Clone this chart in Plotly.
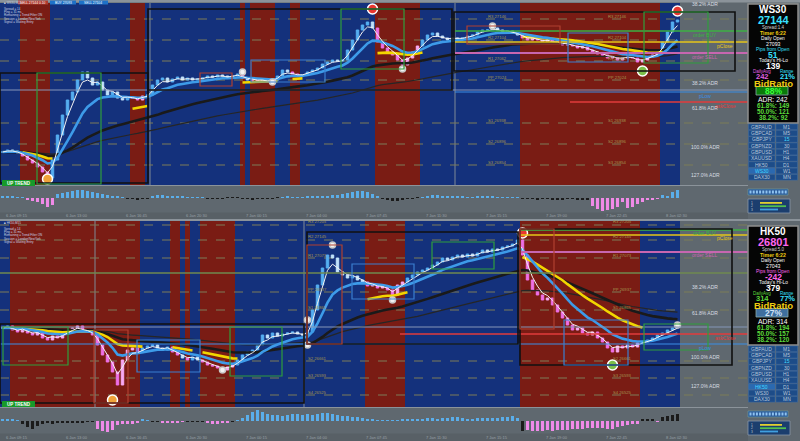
import plotly.graph_objects as go
import pandas as pd

W, H = 800, 441

# ---------------- DATA ----------------
top_symbol = "WS30"
bot_symbol = "HK50"

top_close = [
    26880, 26884, 26882, 26878, 26872, 26864, 26858, 26850, 26840, 26828,
    26864, 26914, 26954, 26984, 27000, 27024, 27040, 27028, 27014, 27020,
    27004, 26994, 27000, 26988, 26984, 26990, 26988, 26984, 26992, 26994,
    27014, 27024, 27028, 27020, 27026, 27030, 27024, 27028, 27024, 27026,
    27028, 27032, 27030, 27034, 27032, 27028, 27032, 27036, 27028, 27024,
    27024, 27022, 27024, 27020, 27024, 27032, 27044, 27040, 27036, 27032,
    27034, 27040, 27044, 27048, 27056, 27060, 27064, 27062, 27064, 27084,
    27104, 27124, 27134, 27140, 27128, 27100, 27088, 27080, 27074, 27064,
    27054, 27068, 27080, 27092, 27104, 27114, 27118, 27112, 27108, 27104,
    27108, 27106, 27108, 27112, 27114, 27120, 27124, 27124, 27128, 27124,
    27120, 27122, 27118, 27114, 27108, 27104, 27108, 27104, 27100, 27104,
    27098, 27100, 27094, 27096, 27092, 27088, 27090, 27084, 27080, 27076,
    27074, 27068, 27070, 27064, 27068, 27072, 27068, 27060, 27064, 27070,
    27074, 27080, 27100, 27120, 27140, 27144]

bot_close = [
    26793, 26801, 26785, 26777, 26793, 26773, 26765, 26777, 26753, 26745,
    26761, 26753, 26769, 26785, 26793, 26801, 26785, 26777, 26765, 26725,
    26685, 26657, 26617, 26565, 26665, 26705, 26713, 26697, 26713, 26721,
    26725, 26713, 26705, 26717, 26697, 26685, 26673, 26665, 26677, 26665,
    26657, 26645, 26641, 26633, 26625, 26637, 26645, 26665, 26685, 26697,
    26705, 26725, 26765, 26753, 26773, 26761, 26769, 26773, 26777, 26769,
    26765, 26777, 26865, 26965, 27033, 27085, 27073, 27017, 27005, 26993,
    27001, 26985, 26977, 26961, 26965, 26953, 26957, 26945, 26925, 26965,
    26977, 26993, 27005, 27017, 27025, 27033, 27045, 27057, 27073, 27065,
    27077, 27085, 27077, 27089, 27081, 27093, 27105, 27097, 27109, 27105,
    27117, 27121, 27129, 27145, 27085, 26985, 26945, 26925, 26905, 26913,
    26885, 26857, 26833, 26805, 26785, 26793, 26773, 26765, 26777, 26753,
    26737, 26713, 26697, 26721, 26713, 26725, 26717, 26733, 26737, 26745,
    26753, 26765, 26773, 26785, 26793, 26801]

# regime (background) runs: B = blue / bullish, R = red / bearish
top_regime_runs = [("B", 4), ("R", 6), ("B", 16), ("R", 3), ("B", 19), ("R", 1), ("B", 1),
                   ("R", 5), ("B", 3), ("R", 2), ("B", 15), ("R", 9), ("B", 20), ("R", 28), ("B", 4)]
bot_regime_runs = [("B", 2), ("R", 26), ("B", 6), ("R", 2), ("B", 1), ("R", 1), ("B", 2),
                   ("R", 7), ("B", 26), ("R", 8), ("B", 23), ("R", 24), ("B", 8)]

top_hist = [
    1.5, 2, 2, 1, 1,
    -2, -3, -4, -6, -9, -7,
    4, 5, 6, 7, 8, 8, 7, 6, 5, 4, 3, 2, 1.5, 1,
    -0.5, -1, -1.5, -1, -0.5,
    2, 3, 3, 2.5, 2, 2, 1.5, 1, 1, 0.5, 0.5,
    -0.5, -1, -1, -0.5, 0.5, 1, 0.5, -0.5, -1, -1.5, -1, -1, -0.5, -0.5, 0.5,
    1, 1.5, 1, 0.5, 1, 1.5, 2, 2, 2.5, 2.5, 3, 3,
    4, 5, 6, 7, 7, 6, 4, 2,
    -1, -2, -3, -3, -2, -1, -0.5, 0.5,
    1, 2, 3, 3, 2.5, 2, 2, 1.5, 1.5, 1, 1, 1.5, 2, 2, 1.5, 1, 1, 0.5, 0.5, 0.3,
    -0.5, -1, -1, -1.5, -1, -1, -1.5, -2, -1.5, -1, -1, -1.5, -2, -2,
    -8, -11, -13, -12, -11, -9, -4, -10, -9, -6, -4, -2, -1.5, -1,
    3, 2, 6, 8]
top_hist_runs = [("b", 5), ("p", 6), ("b", 14), ("k", 5), ("b", 11), ("k", 15), ("b", 20),
                 ("k", 8), ("b", 20), ("k", 14), ("p", 14), ("b", 4)]

bot_hist = [
    1.5, 2, 1.5, 1,
    -3, -6, -8, -5, -3,
    -2, -2.5, -2, -1.5, -2, -2, -1.5, -1.5, -1, -1,
    -8, -10, -11, -9,
    -4, -3, -3, -2.5, -2,
    1.5, 1,
    -0.5, -1,
    -2, -2, -1.5, -2, -1,
    -1, -0.5, -0.5, -1,
    -2, -3, -2.5, -2, -1.5,
    -0.5,
    1, 3, 6, 9, 11, 9, 7, 6, 6, 5, 6, 7, 7,
    6, 7, 6, 7, 8, 8, 7, 6, 5, 5, 4, 4, 3,
    2, 1.5, 1, 1, 0.5, 0.5, 1, 1.5,
    1.5, 2, 2, 2.5, 3, 3, 2.5, 3, 3.5, 4, 4, 3, 2, 2.5, 3, 3.5, 3.5, 3, 3, 4, 4.5, 5, 3,
    -10,
    -9, -10, -10, -9.5, -9, -9.5, -9, -9, -8.5, -8, -8, -7.5, -7, -7, -6.5, -7, -8, -7.5, -6, -5, -4, -3, -2.5,
    2.5, 2, 1.5,
    -0.5,
    4, 5, 6, 7]
bot_hist_runs = [("b", 4), ("k", 15), ("p", 9), ("b", 2), ("k", 2), ("p", 5), ("k", 4), ("p", 5),
                 ("k", 1), ("b", 57), ("k", 1), ("p", 23), ("k", 3), ("p", 1), ("k", 4)]

# signal markers (bar index, price)
top_sell_idx, top_sell_px = [74, 135], [27166, 27162]
top_low_idx, top_low_px = [9], [26826]
top_tp_idx, top_tp_px = [128], [27042]
top_dot_idx, top_dot_px = [48, 54, 80, 98], [27040, 27020, 27046, 27132]
bot_sell_idx, bot_sell_px = [104], [27173]
bot_low_idx, bot_low_px = [22], [26505]
bot_tp_idx, bot_tp_px = [122], [26645]
bot_dot_idx, bot_dot_px = [61, 61, 66, 78, 135, 44], [26825, 26725, 27125, 26905, 26805, 26625]

# zone boxes: (bar0, bar1, price_low, price_high)
top_black_boxes = [(-0.5, 29.1, 26818, 27038), (29.1, 89.9, 27004, 27166), (90.3, 146.5, 27042, 27160)]
top_green_boxes = [(6.9, 19.7, 26816, 27038), (67.7, 80.3, 27046, 27166), (128.3, 141.1, 27058, 27160)]
top_blue_boxes = [(49.7, 64.5, 27020, 27064), (113.1, 125.1, 27060, 27118)]
top_red_boxes = [(39.5, 45.9, 27012, 27038), (92.9, 111.5, 27096, 27132)]
bot_black_boxes = [(-0.5, 60.3, 26493, 26809), (60.9, 103.1, 26729, 27177), (103.5, 145.9, 26645, 27189)]
bot_green_boxes = [(0.1, 13.1, 26645, 26797), (45.5, 55.9, 26601, 26797), (85.9, 98.3, 27029, 27137),
                   (128.3, 141.1, 26705, 26809)]
bot_blue_boxes = [(26.9, 39.5, 26617, 26745), (69.9, 82.3, 26909, 27049), (112.3, 125.1, 26645, 26825)]
bot_red_boxes = [(18.3, 25.1, 26493, 26785), (60.9, 67.9, 26729, 27125), (103.5, 110.3, 26789, 27189)]

# horizontal levels
top_dash_levels = [27146, 27104, 27062, 27024, 26938, 26896, 26854]
top_dash_tags = ["R3", "R2", "R1", "PP", "S1", "S2", "S3"]
bot_dash_levels = [27205, 27145, 27073, 26937, 26865, 26661, 26593, 26525]
bot_dash_tags = ["R3", "R2", "R1", "PP", "S1", "S2", "S3", "S4"]
# (name, price, start bar)
top_lines = [("order BUY", 27122, 90.5), ("pClose", 27100, 90.5), ("order SELL", 27078, 90.5),
             ("prev", 27004, -0.5), ("pLow", 27000, 90.5), ("askClose", 26980, 113.5)]
bot_lines = [("order BUY", 27185, 103.5), ("pClose", 27165, 103.5), ("order SELL", 27097, 103.5),
             ("mid", 27013, -0.5), ("prev", 26797, -0.5), ("askClose", 26769, 79.5), ("pLow", 26729, -0.5)]
top_adr_labels = [("38.2% ADR", 27176), ("38.2% ADR", 27018), ("61.8% ADR", 26968),
                  ("100.0% ADR", 26890), ("127.0% ADR", 26834)]
bot_adr_labels = [("38.2% ADR", 26957), ("61.8% ADR", 26853), ("100.0% ADR", 26677), ("127.0% ADR", 26561)]
top_day_sep = [29.5, 90.5]
bot_day_sep = [18.5, 60.3]

# info panels
top_info = ["WS30", "27144", "Spread:1.4", "Timer 6:22", "Daily Open", "27093", "Pips from Open", "51",
            "Today's Hi-Lo", "139", "DailyAvg", "Range", "242", "21%", "BidRatio", "88%",
            "ADR: 242", "61.8%: 149", "50.0%: 121", "38.2%: 92"]
bot_info = ["HK50", "26801", "Spread:5.0", "Timer 6:22", "Daily Open", "27043", "Pips from Open", "-242",
            "Today's Hi-Lo", "379", "DailyAvg", "Range", "314", "77%", "BidRatio", "27%",
            "ADR: 314", "61.8%: 194", "50.0%: 157", "38.2%: 120"]
pairs = ["GBPAUD", "GBPCAD", "GBPJPY", "GBPNZD", "GBPUSD", "XAUUSD", "HK50", "WS30", "DAX30"]
timeframes = ["M1", "M5", "15", "30", "H1", "H4", "D1", "W1", "MN"]

# ---------------- BUILD ----------------
def expand(runs):
    return "".join(c * n for c, n in runs)

top_reg = expand(top_regime_runs)
bot_reg = expand(bot_regime_runs)
top_hc = expand(top_hist_runs)
bot_hc = expand(bot_hist_runs)
N = len(top_close)
assert len(bot_close) == N and len(top_reg) == N and len(bot_reg) == N
assert len(top_hist) == N and len(bot_hist) == N and len(top_hc) == N and len(bot_hc) == N

XR = [-0.5, 149.1]
XEND = XR[1]
RED_BG = "#7a1c14"
BLUE_BG = "#14317c"
GREY = "#5f686f"
FONT = "Liberation Sans"

fig = go.Figure()
shapes = []
anns = []


def P(x):
    return x / W


def Q(y):
    return 1 - y / H


def runs_of(s):
    out = []
    start = 0
    for i in range(1, len(s) + 1):
        if i == len(s) or s[i] != s[start]:
            out.append((s[start], start, i - 1))
            start = i
    return out


def panel(close, reg, hist, hc, xa, ya, xh, yh, yref_dom, s):
    idx = list(range(N))
    for code, a, b in runs_of(reg):
        shapes.append(dict(type="rect", xref=xa, yref=yref_dom, x0=a - 0.5, x1=b + 0.5, y0=0, y1=1,
                           fillcolor=RED_BG if code == "R" else BLUE_BG, line=dict(width=0), layer="below"))
    for p in s["dash"]:
        shapes.append(dict(type="line", xref=xa, yref=ya, x0=XR[0], x1=XEND, y0=p, y1=p,
                           line=dict(color="#7d7c58", width=1, dash="dash"), layer="below"))
    for p, t in zip(s["dash"], s["tags"]):
        for xb in s["tagx"]:
            anns.append(dict(xref=xa, yref=ya, x=xb, y=p, text=f"{t} {p}", showarrow=False,
                             font=dict(size=4.2, color="#a2944e", family=FONT), yshift=3))
    for xs in s["sep"]:
        shapes.append(dict(type="line", xref=xa, yref=yref_dom, x0=xs, x1=xs, y0=0, y1=1,
                           line=dict(color="#7f8a96", width=1), layer="below"))
    lcol = {"order BUY": ("#3cb043", 1.5), "pClose": ("#e6c619", 1.5), "order SELL": ("#c766b0", 2),
            "mid": ("#6f8a4f", 1.5), "prev": ("#8596b8", 1), "pLow": ("#3a8ee6", 1.2),
            "askClose": ("#e23b3b", 1.5)}
    for name, p, x0 in s["lines"]:
        c, w = lcol[name]
        shapes.append(dict(type="line", xref=xa, yref=ya, x0=x0, x1=XEND, y0=p, y1=p,
                           line=dict(color=c, width=w), layer="above"))
        if name not in ("mid", "prev"):
            anns.append(dict(xref=xa, yref=ya, x=144.5 if name in ("pClose", "askClose") else 140.5,
                             y=p, text=name, showarrow=False, yshift=-3.5,
                             font=dict(size=5, color=c, family=FONT)))
    for t, p in s["adr"]:
        anns.append(dict(xref=xa, yref=ya, x=140.5, y=p, text=t, showarrow=False,
                         font=dict(size=5, color="#d8dde2", family=FONT)))
    for boxes, col, w in ((s["black"], "#101010", 1.6), (s["green"], "#2f9e3d", 1.2),
                          (s["blue"], "#3a7fd0", 1.2), (s["red"], "#b04030", 1.2)):
        for x0, x1, p0, p1 in boxes:
            shapes.append(dict(type="rect", xref=xa, yref=ya, x0=x0, x1=x1, y0=p0, y1=p1,
                               line=dict(color=col, width=w), fillcolor="rgba(0,0,0,0)", layer="above"))
    cs = pd.Series(close, dtype=float)
    slow2 = cs.ewm(span=80, adjust=False).mean()
    slow = cs.ewm(span=40, adjust=False).mean()
    mid = cs.ewm(span=22, adjust=False).mean()
    fast = cs.ewm(span=10, adjust=False).mean()
    vfast = cs.ewm(span=3, adjust=False).mean()
    fig.add_trace(go.Scatter(x=idx, y=slow2, mode="lines", line=dict(color="#262626", width=1.2),
                             xaxis=xa, yaxis=ya, hoverinfo="skip", showlegend=False))
    fig.add_trace(go.Scatter(x=idx, y=slow, mode="lines", line=dict(color="#1a1a1a", width=2.6),
                             xaxis=xa, yaxis=ya, hoverinfo="skip", showlegend=False))
    ymid = [v if reg[i] == "R" or (i > 0 and reg[i - 1] == "R") else None for i, v in enumerate(mid)]
    fig.add_trace(go.Scatter(x=idx, y=ymid, mode="lines", line=dict(color="#f2d600", width=2.6),
                             xaxis=xa, yaxis=ya, hoverinfo="skip", showlegend=False))
    fig.add_trace(go.Scatter(x=idx, y=fast, mode="lines", line=dict(color="#3d9be9", width=2.6),
                             xaxis=xa, yaxis=ya, hoverinfo="skip", showlegend=False))
    opens = [close[0]] + close[:-1]
    for code, inc, dec in (("B", "#55aef0", "#bfe0fa"), ("R", "#f7a8f2", "#ee6fe6")):
        sel = [reg[i] == code for i in idx]
        o = [opens[i] if sel[i] else None for i in idx]
        c = [close[i] if sel[i] else None for i in idx]
        hi = [max(opens[i], close[i]) if sel[i] else None for i in idx]
        lo = [min(opens[i], close[i]) if sel[i] else None for i in idx]
        fig.add_trace(go.Candlestick(x=idx, open=o, high=hi, low=lo, close=c, xaxis=xa, yaxis=ya,
                                     increasing=dict(line=dict(color=inc, width=1), fillcolor=inc),
                                     decreasing=dict(line=dict(color=dec, width=1), fillcolor=dec),
                                     whiskerwidth=0, showlegend=False, hoverinfo="skip"))
    fig.add_trace(go.Scatter(x=idx, y=vfast, mode="lines", line=dict(color="#f2f2f2", width=1),
                             xaxis=xa, yaxis=ya, hoverinfo="skip", showlegend=False))
    for (ix, px), col, sz in ((s["sell"], "#e8362f", 10), (s["low"], "#f0a33a", 10),
                              (s["tp"], "#7cc04a", 10), (s["dot"], "#f2f2f2", 6)):
        fig.add_trace(go.Scatter(x=ix, y=px, mode="markers", xaxis=xa, yaxis=ya, hoverinfo="skip",
                                 showlegend=False,
                                 marker=dict(size=sz, color=col,
                                             line=dict(color="#ffffff" if sz > 6 else "#c8c8c8", width=1.5))))
    cmap = {"b": "#5aaeea", "p": "#f08ae8", "k": "#1b1b1b"}
    fig.add_trace(go.Bar(x=idx, y=hist, width=0.72, marker=dict(color=[cmap[c] for c in hc], line=dict(width=0)),
                         xaxis=xh, yaxis=yh, hoverinfo="skip", showlegend=False))


panel(top_close, top_reg, top_hist, top_hc, "x", "y", "x2", "y2", "y domain",
      dict(dash=top_dash_levels, tags=top_dash_tags, tagx=[99, 123], sep=top_day_sep, lines=top_lines,
           adr=top_adr_labels, black=top_black_boxes, green=top_green_boxes, blue=top_blue_boxes,
           red=top_red_boxes, sell=(top_sell_idx, top_sell_px), low=(top_low_idx, top_low_px),
           tp=(top_tp_idx, top_tp_px), dot=(top_dot_idx, top_dot_px)))
panel(bot_close, bot_reg, bot_hist, bot_hc, "x3", "y3", "x4", "y4", "y3 domain",
      dict(dash=bot_dash_levels, tags=bot_dash_tags, tagx=[63, 124], sep=bot_day_sep, lines=bot_lines,
           adr=bot_adr_labels, black=bot_black_boxes, green=bot_green_boxes, blue=bot_blue_boxes,
           red=bot_red_boxes, sell=(bot_sell_idx, bot_sell_px), low=(bot_low_idx, bot_low_px),
           tp=(bot_tp_idx, bot_tp_px), dot=(bot_dot_idx, bot_dot_px)))


def prect(x0, y0, x1, y1, fill, line=None, lw=0, layer="above"):
    shapes.append(dict(type="rect", xref="paper", yref="paper", x0=P(x0), x1=P(x1), y0=Q(y1), y1=Q(y0),
                       fillcolor=fill, line=dict(color=line or fill, width=lw), layer=layer))


def ptext(x, y, t, size, color, anchor="center", bold=False):
    anns.append(dict(xref="paper", yref="paper", x=P(x), y=Q(y), text=f"<b>{t}</b>" if bold else t,
                     showarrow=False, xanchor=anchor, yanchor="middle",
                     font=dict(size=size, color=color, family=FONT)))


prect(0, 0, 800, 2.5, "#8b939a")
prect(0, 185, 748, 186, "#8b939a")
prect(0, 212.5, 748, 219, "#586066")
prect(0, 219, 800, 221, "#8b939a")
prect(0, 407, 748, 408, "#8b939a")
prect(0, 433.5, 748, 441, "#586066")

dates = ["6 Jan 09:15", "6 Jan 13:00", "6 Jan 16:45", "6 Jan 20:30", "7 Jan 00:15", "7 Jan 04:00",
         "7 Jan 07:45", "7 Jan 11:30", "7 Jan 15:15", "7 Jan 19:00", "7 Jan 22:45", "8 Jan 02:30"]
for k, d in enumerate(dates):
    for yy in (215.8, 437):
        ptext(4 + k * 60, yy, d, 4, "#98a0a7", anchor="left")

for y0 in (180, 401):
    prect(2, y0, 35, y0 + 6, "#179a2a")
    ptext(18.5, y0 + 3, "UP TREND", 4.5, "#ffffff", bold=True)

prect(18, 0.5, 48, 4.5, "#b03a2e")
prect(50, 0.5, 76, 4.5, "#1e72c8")
prect(79, 0.5, 108, 4.5, "#1e72c8")
for xx, t in ((33, "SELL 27144 0.10"), (63, "BUY 27093"), (93, "SELL 27104")):
    ptext(xx, 2.6, t, 3.3, "#ffffff")
for yoff, sym in ((0, "WS30,M15"), (220, "HK50,M15")):
    lines = ["\u25a0 " + sym, "", "Spread = 14", "Ping = 31 ms", "Remaining = Trend Filter ON",
             "Session = London/NewYork", "Signal = Waiting Entry"]
    for k, t in enumerate(lines):
        if t:
            ptext(2, yoff + 3 + k * 3.1, t, 3, "#c8d0e0", anchor="left")

# ----- info panels -----
ROW_Y = [10, 19.5, 27.3, 33, 38.6, 43.6, 49, 54.8, 60.2, 65.8, 71, 71, 76.6, 76.6, 83, 90.6, 99, 105.5, 111.5, 117.5]
ROW_X = [773] * 10 + [762, 787, 762, 787] + [773] * 6
ROW_SZ = [10, 11, 4.5, 5.2, 4.8, 5.2, 4.8, 8.5, 4.8, 8.5, 4.5, 4.5, 7.5, 7.5, 9.5, 8.5, 6.8, 6.3, 6.3, 6.3]
ROW_B = [1, 1, 0, 1, 0, 0, 0, 1, 0, 1, 0, 0, 1, 1, 1, 1, 0, 1, 1, 1]
WHITE, CYAN, YEL, MAG, GRN, LG = "#ffffff", "#38e0ff", "#f0cc10", "#e060e0", "#5ddc3c", "#d0d0d0"
PINK = "#ff66ee"
top_cols = [WHITE, CYAN, LG, YEL, WHITE, WHITE, CYAN, CYAN, WHITE, WHITE, MAG, CYAN, MAG, CYAN, YEL,
            "#3cff3c", WHITE, GRN, GRN, GRN]
bot_cols = [WHITE, PINK, LG, YEL, WHITE, WHITE, PINK, PINK, WHITE, WHITE, GRN, CYAN, GRN, CYAN, YEL,
            "#cfe2f5", WHITE, GRN, GRN, GRN]


def info_panel(texts, cols, yoff, ratio_fill, active):
    prect(748, yoff + 4, 798, yoff + 123, "#050505", "#8e8e8e", 1.5)
    prect(756, yoff + 86.5, 788, yoff + 95, ratio_fill, "#8aa", 0.8)
    for t, c, x, y, sz, b in zip(texts, cols, ROW_X, ROW_Y, ROW_SZ, ROW_B):
        ptext(x, yoff + y, t, sz, c, bold=bool(b))
    top = yoff + 124
    rh = 6.3
    for k, (pr, tf) in enumerate(zip(pairs, timeframes)):
        y0 = top + k * rh
        hl = pr == active
        prect(748.5, y0, 775, y0 + rh - 0.6, "#2b69b0" if hl else "#1d4c88", "#3a6ca8", 0.5)
        prect(776, y0, 797.5, y0 + rh - 0.6, "#1d4c88", "#3a6ca8", 0.5)
        ptext(761.5, y0 + rh / 2 - 0.3, pr, 5, "#40d8ff" if hl else "#b9c7d9")
        ptext(786.5, y0 + rh / 2 - 0.3, tf, 5, "#40d8ff" if tf == "15" else "#b9c7d9")
    by = yoff + 189
    prect(748, by, 788, by + 6, "#2a5a98", "#7aa", 0.5)
    for k in range(12):
        prect(749.5 + k * 3.2, by + 1.5, 751.5 + k * 3.2, by + 4.5, "#8fc3f0")
    sy = yoff + 199
    prect(748, sy, 790, sy + 14, "#1b3e6e", "#8898a8", 0.8)
    for k, (w, c) in enumerate(((22, "#e0d030"), (26, "#50c050"), (18, "#40a0e0"))):
        prect(760, sy + 3 + k * 3.3, 760 + w, sy + 4.8 + k * 3.3, c)
        ptext(752, sy + 3.9 + k * 3.3, str(k + 1), 3.2, "#c0c8d0")


info_panel(top_info, top_cols, 0, "#0a7a0a", top_symbol)
info_panel(bot_info, bot_cols, 222, "#3f6f9f", bot_symbol)


def xax(anchor):
    return dict(domain=[0, 748 / W], anchor=anchor, range=XR, showgrid=False, zeroline=False,
                showticklabels=False, ticks="", showline=False, fixedrange=True,
                rangeslider=dict(visible=False))


def yax(anchor, dom, rng):
    return dict(domain=dom, anchor=anchor, range=rng, showgrid=False, zeroline=False,
                showticklabels=False, ticks="", showline=False, fixedrange=True)


fig.update_layout(
    width=W, height=H, margin=dict(l=0, r=0, t=0, b=0),
    paper_bgcolor=GREY, plot_bgcolor=GREY, showlegend=False, bargap=0,
    xaxis=xax("y"), xaxis2=xax("y2"), xaxis3=xax("y3"), xaxis4=xax("y4"),
    yaxis=yax("x", [Q(185), Q(3)], [26814, 27178]),
    yaxis2=yax("x2", [Q(212), Q(186)], [-14, 12]),
    yaxis3=yax("x3", [Q(407), Q(221)], [26477, 27221]),
    yaxis4=yax("x4", [Q(433), Q(408)], [-12, 13]),
    shapes=shapes, annotations=anns,
)

fig.write_html("out.html", config=dict(displayModeBar=False),
               post_script="document.body.style.margin='0';document.body.style.overflow='hidden';")
